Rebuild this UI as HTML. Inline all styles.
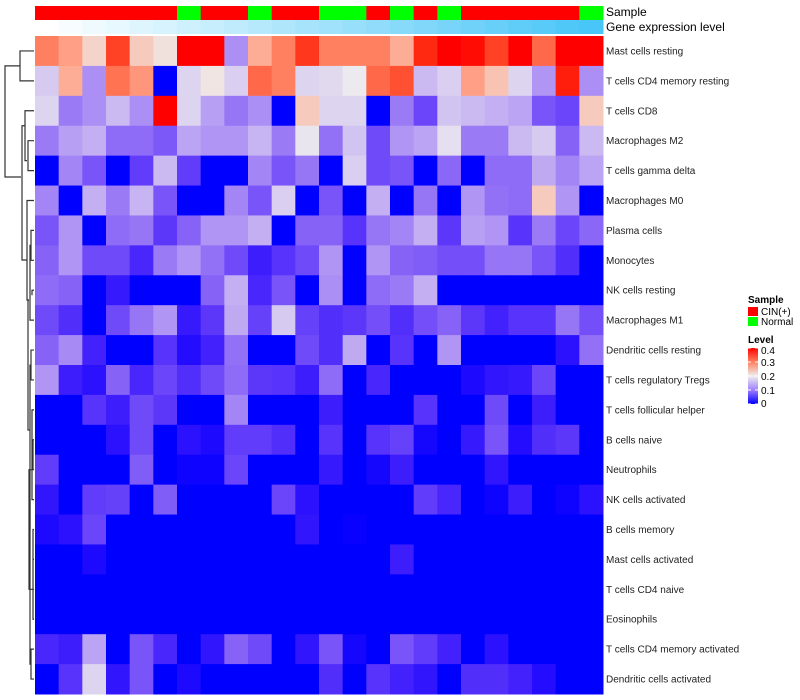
<!DOCTYPE html>
<html><head><meta charset="utf-8"><style>
body{margin:0;background:#fff;}
svg{display:block;font-family:"Liberation Sans",sans-serif;}
</style></head><body>
<svg id="chart" width="800" height="700" xmlns="http://www.w3.org/2000/svg">
<g id="dendro" fill="none" stroke="#333" stroke-width="1.2"></g>
<g id="cells"></g>
<g id="annot"></g>
<g id="rowlabels" font-size="10" fill="#222"></g>
<text x="606" y="16" font-size="12">Sample</text>
<text x="606" y="31" font-size="12">Gene expression level</text>
<g font-size="10">
<text x="748" y="303" font-weight="bold">Sample</text>
<rect x="748" y="307" width="10" height="9" fill="#ff0000"/>
<text x="761" y="315">CIN(+)</text>
<rect x="748" y="317" width="10" height="9" fill="#00ff00"/>
<text x="761" y="325">Normal</text>
<text x="748" y="343" font-weight="bold">Level</text>
<defs><linearGradient id="lg" x1="0" y1="1" x2="0" y2="0">
<stop offset="0" stop-color="#0000ff"/><stop offset="0.25" stop-color="#9f7fff"/><stop offset="0.5" stop-color="#eeeeee"/><stop offset="0.75" stop-color="#ff8060"/><stop offset="1" stop-color="#ff0000"/></linearGradient></defs>
<rect x="748" y="348" width="10" height="56" fill="url(#lg)"/>
<g id="legticks"></g>
</g>
</svg>
<script>
const rowNames=["Mast cells resting","T cells CD4 memory resting","T cells CD8","Macrophages M2","T cells gamma delta","Macrophages M0","Plasma cells","Monocytes","NK cells resting","Macrophages M1","Dendritic cells resting","T cells regulatory  Tregs","T cells follicular helper","B cells naive","Neutrophils","NK cells activated","B cells memory","Mast cells activated","T cells CD4 naive","Eosinophils","T cells CD4 memory activated","Dendritic cells activated"];
const sampleGroup=["CIN","CIN","CIN","CIN","CIN","CIN","Normal","CIN","CIN","Normal","CIN","CIN","Normal","Normal","CIN","Normal","CIN","Normal","CIN","CIN","CIN","CIN","CIN","Normal"];
const geneLevel=[1,2,3,4,5,6,7,8,9,10,11,12,13,14,15,16,17,18,19,20,21,22,23,24];
const legendTicks=[0,0.1,0.2,0.3,0.4];
// values on a 0-10 scale (value = level*0.04)
const row1=[7.5,6.8,5.6,8.8,5.8,5.3,10,10,3.2,6.5,7.5,9,7.5,7.5,7.5,6.5,9.3,10,9.8,8.8,10,8,10,10];
const row2=[4.3,6.5,3.2,7.8,7,0,4.5,5.2,4.4,8,7.5,4.5,4.6,4.9,8,8.5,4,4.4,6.8,6,4.5,3.3,9.5,3.2];
const row3=[4.5,2.8,3.2,4,3.2,10,4.5,3.5,2.7,3.2,0,5.8,4.5,4.5,0,2.8,1.7,4.2,4,3.8,3.6,2,1.7,5.8];
const row4=[2.8,3.5,3.8,2.5,2.5,2.1,3.6,3.3,3.3,3.9,2.8,4.8,2.6,4.2,1.8,3.3,3.6,4.7,2.8,2.8,4,4.3,2.3,4];
const row5=[0,3,2,0,1.5,4,1.5,0,0,3,2,2.7,0,4.4,1.8,2,0,2.4,0,2.5,2.5,3.7,3,3.6];
const row6=[3,0,3.8,2.8,3.9,2,0,0,3,2,4.4,0,2,0,3.8,0,2.7,0,3.3,2.6,2.5,5.8,3.3,0];
const row7=[2,3.3,0,2.5,2.7,1.4,2.3,3.3,3.3,3.8,0,2.3,2.3,1.3,2.7,3,3.8,1.4,3.5,3.3,1.3,2.8,1.7,2.4];
const row8=[2.3,3.3,1.8,1.8,1,2.8,3.3,2.6,1.8,0.8,1.3,1.8,3.3,0,3.3,2.3,2.2,1.9,1.9,2.7,2.7,2,1.2,0];
const row9=[2.5,2.3,0,0.7,0,0,0,2.3,3.8,1,2,0,3.2,0,2.5,2.8,3.8,0,0,0,0,0,0,0];
const row10=[1.8,1.2,0,1.8,2.7,3.3,0.7,1.4,3.7,1.6,4.3,1.6,1.2,1.4,1.9,1.2,1.9,2.3,1.4,0.9,1.3,1.3,2.7,1.9];
const row11=[2.3,3.1,0.9,0,0,1.3,0.4,0.9,2.6,0,0,1.8,1.2,3.7,0,1.3,0,3.3,0,0,0,0,0.5,2.6];
const row12=[3.3,0.8,0.5,2.3,1,1.7,1.2,1.8,2.5,1.4,1.3,0.8,2.5,0,1,0,0,0,0.3,0.6,0.7,1.7,0,0];
const row13=[0,0,1.3,0.8,1.8,1.4,0,0,3,0,0,0,0.8,0,0,0,1.3,0,0,1.8,0,0.8,0,0];
const row14=[0,0,0,0.5,1.8,0,0.5,0.3,1.5,1.5,1.2,0,1.3,0,1.3,1.6,0.2,0,0.7,2,0.4,1.2,1.4,0];
const row15=[1.5,0,0,0,2.2,0,0.1,0.1,1.7,0,0,0,0.7,0,0.2,0.8,0,0,0,0.6,0,0,0,0];
const row16=[0.6,0,1.5,1.6,0,2.2,0,0,0,0,1.7,0.5,0,0,0,0,1.5,1,0,0.1,0.8,0,0.1,0.5];
const row17=[0.3,0.5,1.7,0,0,0,0,0,0,0,0,0.6,0,0.05,0,0,0,0,0,0,0,0,0,0];
const row18=[0,0,0.3,0,0,0,0,0,0,0,0,0,0,0,0,0.8,0,0,0,0,0,0,0,0];
const row19=[0,0,0,0,0,0,0,0,0,0,0,0,0,0,0,0,0,0,0,0,0,0,0,0];
const row20=[0,0,0,0,0,0,0,0,0,0,0,0,0,0,0,0,0,0,0,0,0,0,0,0];
const row21=[1,0.8,3.6,0,2,1,0,0.6,2.3,1.8,0,0.6,2,0.2,0,2,1.5,0.9,0,0.5,0,0,0,0];
const row22=[0,1.3,4.5,0.6,2,0,0.3,0,0,0,0,0,1.2,0,1.3,0.9,0.6,0,1.2,1.2,0.9,0.4,0,0];
const values=[row1,row2,row3,row4,row5,row6,row7,row8,row9,row10,row11,row12,row13,row14,row15,row16,row17,row18,row19,row20,row21,row22];

const NS="http://www.w3.org/2000/svg";
const X0=35,X1=603,Y0=36,Y1=694;
const nc=24,nr=22,cw=(X1-X0)/nc,rh=(Y1-Y0)/nr;
const xPos=i=>X0+i*cw, yPos=j=>Y0+j*rh;
function colorOf(v){ // v 0..0.4
  v=Math.max(0,Math.min(0.4,v));
  if(v<=0.2){const t=v/0.2;const r=Math.round(255*Math.pow(t,0.75)*0.94),g=Math.round(255*Math.pow(t,1.15)*0.94),b=Math.round(255-17*t);return `rgb(${r},${g},${b})`;}
  const s=(v-0.2)/0.2;const g=Math.round(238*Math.pow(1-s,0.9)),b=Math.round(238*Math.pow(1-s,1.3));return `rgb(${Math.round(238+17*Math.min(1,s*3))},${g},${b})`;
}
function mk(tag,attrs,parent){const e=document.createElementNS(NS,tag);for(const k in attrs)e.setAttribute(k,attrs[k]);parent.appendChild(e);return e;}
const cells=document.getElementById('cells');
values.forEach((row,j)=>row.forEach((lv,i)=>{
  const r=mk('rect',{x:xPos(i),y:yPos(j),width:cw+0.5,height:rh+0.5,fill:colorOf(lv*0.04)},cells);
  
  
}));
const annot=document.getElementById('annot');
const gmin=Math.min(...geneLevel),gmax=Math.max(...geneLevel);
sampleGroup.forEach((g,i)=>{
  const r=mk('rect',{x:xPos(i),y:6,width:cw+0.5,height:14,fill:g==="CIN"?"#ff0000":"#00ff00"},annot);
  
  
  const t=(geneLevel[i]-gmin)/(gmax-gmin);
  const c=`rgb(${Math.round(255-(255-72)*t)},${Math.round(255-(255-198)*t)},${Math.round(255-(255-247)*t)})`;
  const r2=mk('rect',{x:xPos(i),y:20,width:cw+0.5,height:14,fill:c},annot);
  
  
});
const rl=document.getElementById('rowlabels');
rowNames.forEach((n,j)=>{
  const t=mk('text',{x:606,y:yPos(j)+rh/2+3.5},rl);t.textContent=n;
  
  
});
const lt=document.getElementById('legticks');
legendTicks.forEach(v=>{
  const y=404-v/0.4*56;
  mk('line',{x1:748,x2:751,y1:y,y2:y,stroke:"#fff"},lt);
  mk('line',{x1:755,x2:758,y1:y,y2:y,stroke:"#fff"},lt);
  const t=mk('text',{x:761,y:Math.max(354,Math.min(y+4,407)),'font-size':10},lt);t.textContent=String(v);
  
  
});
// dendrogram (approximate structure)
const d=document.getElementById('dendro');
const yc=j=>yPos(j)+rh/2;
const segs=[
 [[34,yc(0)],[20,yc(0)],[20,yc(1)],[34,yc(1)]],
 [[20,(yc(0)+yc(1))/2],[5,(yc(0)+yc(1))/2],[5,177],[21,177]],
 [[34,yc(2)],[25,yc(2)],[25,yc(4)-10],[27,yc(4)-10]],
 [[34,yc(3)],[28,yc(3)],[28,yc(4)],[34,yc(4)]],
 [[25,(yc(2)+yc(3))/2],[22,(yc(2)+yc(3))/2],[22,260],[27,260]],
 [[34,yc(5)],[27,yc(5)],[27,300],[29,300]],
 [[34,yc(6)],[31,yc(6)],[31,yc(7)],[34,yc(7)]],
 [[31,yc(6)+15],[30,yc(6)+15],[30,yc(9)],[34,yc(9)]],
 [[34,yc(8)],[32,yc(8)],[32,yc(8)+5]],
 [[29,300],[28,300],[28,430],[30,430]],
 [[34,yc(10)],[31,yc(10)],[31,yc(11)],[34,yc(11)]],
 [[31,yc(10)+15],[30,yc(10)+15],[30,530],[29,530]],
 [[34,yc(12)],[32,yc(12)],[32,yc(15)],[34,yc(15)]],
 [[34,yc(13)],[33,yc(13)],[33,yc(14)],[34,yc(14)]],
 [[34,yc(16)],[33,yc(16)],[33,yc(19)],[34,yc(19)]],
 [[34,yc(17)],[33,yc(17)]],[[34,yc(18)],[33,yc(18)]],
 [[32,yc(14)],[29,yc(14)],[29,yc(18)],[33,yc(18)]],
 [[34,yc(20)],[31,yc(20)],[31,yc(21)],[34,yc(21)]],
 [[31,yc(20)+15],[30,yc(20)+15],[30,500],[29,500]],
];
segs.forEach(s=>{
  const p=mk('polyline',{points:s.map(q=>q.join(',')).join(' ')},d);
  
  
});
</script>
</body></html>
